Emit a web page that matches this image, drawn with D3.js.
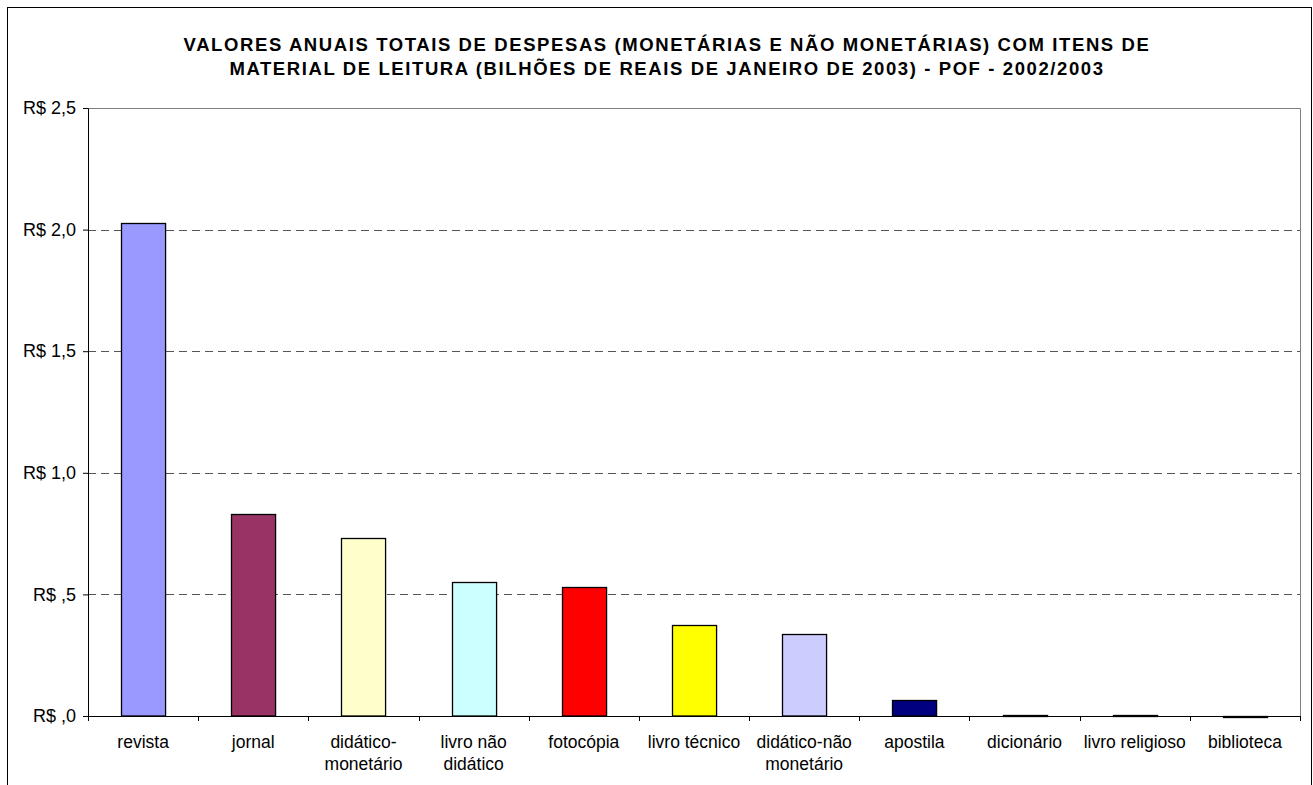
<!DOCTYPE html>
<html>
<head>
<meta charset="utf-8">
<script src="https://cdn.jsdelivr.net/npm/d3@7"></script>
<style>
  body { margin: 0; background: #fff; }
  svg { font-family: "Liberation Sans", Arial, sans-serif; }
</style>
</head>
<body>
<div id="chart"></div>
<script>
// Data (billions of R$, Jan 2003)
const categories = ["revista", "jornal", "didático-monetário", "livro não didático", "fotocópia",
  "livro técnico", "didático-não monetário", "apostila", "dicionário", "livro religioso", "biblioteca"];
const categoryLabels = [["revista"], ["jornal"], ["didático-", "monetário"], ["livro não", "didático"],
  ["fotocópia"], ["livro técnico"], ["didático-não", "monetário"], ["apostila"], ["dicionário"],
  ["livro religioso"], ["biblioteca"]];
const values = [2.027, 0.831, 0.733, 0.551, 0.529, 0.373, 0.338, 0.065, 0.006, 0.005, 0.002];
const barColors = ["#9999FF", "#993366", "#FFFFCC", "#CCFFFF", "#FF0000", "#FFFF00",
  "#CCCCFF", "#000080", "#FF00FF", "#FFFF00", "#00FFFF"];
const yTicks = [0, 0.5, 1.0, 1.5, 2.0, 2.5];
const yTickLabels = ["R$ ,0", "R$ ,5", "R$ 1,0", "R$ 1,5", "R$ 2,0", "R$ 2,5"];
const titleLines = [
  "VALORES ANUAIS TOTAIS DE DESPESAS (MONETÁRIAS E NÃO MONETÁRIAS) COM ITENS DE",
  "MATERIAL DE LEITURA (BILHÕES DE REAIS DE JANEIRO DE 2003) - POF - 2002/2003"
];

const W = 1313, H = 785;
const margin = { top: 108, right: 13, bottom: 69, left: 88 },
      width = W - margin.left - margin.right,
      height = H - margin.top - margin.bottom;

const svg = d3.select("#chart").append("svg")
    .attr("width", W)
    .attr("height", H);

// outer chart frame
svg.append("rect")
    .attr("x", 7.5).attr("y", 7.5)
    .attr("width", W - 9).attr("height", H)
    .attr("fill", "none")
    .attr("stroke", "#000");

// title
svg.append("text")
    .attr("x", 667)
    .attr("y", 51)
    .attr("text-anchor", "middle")
    .attr("font-weight", "bold")
    .attr("font-size", 18.5)
    .attr("letter-spacing", 1.6)
    .selectAll("tspan")
    .data(titleLines)
    .enter().append("tspan")
    .attr("x", 667)
    .attr("dy", (d, i) => i === 0 ? 0 : 24)
    .text(d => d);

const g = svg.append("g")
    .attr("transform", `translate(${margin.left}, ${margin.top})`);

const x = d3.scaleBand()
    .domain(categories)
    .range([0, width])
    .paddingInner(0.6)
    .paddingOuter(0.3);

const y = d3.scaleLinear()
    .domain([0, 2.5])
    .range([height, 0]);

// plot area border (top/right grey)
g.append("path")
    .attr("d", `M0.5,0.5H${width + 0.5}V${height}`)
    .attr("fill", "none")
    .attr("stroke", "#808080");

// gridlines
g.selectAll(".grid")
    .data(yTicks.filter(t => t > 0 && t < 2.5))
    .enter().append("line")
    .attr("x1", 0)
    .attr("x2", width)
    .attr("y1", d => Math.round(y(d)) + 0.5)
    .attr("y2", d => Math.round(y(d)) + 0.5)
    .attr("stroke", "#555")
    .attr("stroke-dasharray", "8,5");

// bars
g.selectAll(".bar")
    .data(values)
    .enter().append("rect")
    .attr("x", (d, i) => Math.round(x(categories[i])) + 0.5)
    .attr("y", d => Math.round(y(d)) + 0.5)
    .attr("width", x.bandwidth())
    .attr("height", d => Math.max(1, height - Math.round(y(d)) - 0.5))
    .attr("fill", (d, i) => barColors[i])
    .attr("stroke", "#000")
    .attr("stroke-width", 1.3);

// y axis
const yAxis = g.append("g")
    .call(d3.axisLeft(y).tickValues(yTicks).tickSize(5).tickPadding(7)
      .tickFormat((d, i) => yTickLabels[i]));
yAxis.selectAll("text").attr("font-size", 18).attr("fill", "#000")
    .attr("font-family", "Liberation Sans, Arial, sans-serif");
yAxis.selectAll("line, path").attr("stroke", "#000");

// x axis with ticks at band boundaries
const xAxis = g.append("g")
    .attr("transform", `translate(0, ${height})`)
    .call(d3.axisBottom(x).tickSize(0).tickFormat(""));
xAxis.select(".domain").attr("stroke", "#000");

const step = x.step();
g.selectAll(".xtick")
    .data(d3.range(categories.length + 1))
    .enter().append("line")
    .attr("x1", i => Math.round(i * step) + 0.5)
    .attr("x2", i => Math.round(i * step) + 0.5)
    .attr("y1", height)
    .attr("y2", height + 5)
    .attr("stroke", "#000");

const labels = g.selectAll(".xlabel")
    .data(categoryLabels)
    .enter().append("text")
    .attr("text-anchor", "middle")
    .attr("font-size", 17.5)
    .attr("transform", (d, i) => `translate(${x(categories[i]) + x.bandwidth() / 2}, ${height + 32})`);
labels.selectAll("tspan")
    .data(d => d)
    .enter().append("tspan")
    .attr("x", 0)
    .attr("dy", (d, i) => i === 0 ? 0 : 22)
    .text(d => d);
</script>
</body>
</html>
